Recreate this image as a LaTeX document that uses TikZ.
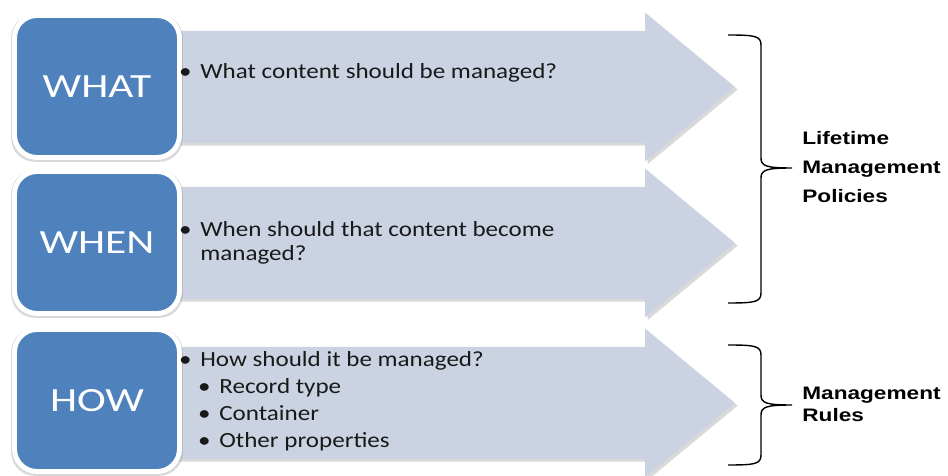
\documentclass[tikz,border=0pt]{standalone}
\usepackage{fontspec}
\setmainfont{Carlito}[FakeStretch=1.16]
\newfontfamily\boxfont{Carlito}[FakeStretch=1.28]
\newfontfamily\lblfont{Liberation Sans}[FakeStretch=1.25]
\usetikzlibrary{positioning,shadows}
\definecolor{boxblue}{HTML}{4F81BD}
\definecolor{arrowgray}{HTML}{CBD3E2}
\newcommand{\qbul}{\llap{\textbullet\hspace{5pt}}}

\begin{document}
\begin{tikzpicture}[x=0.02cm,y=-0.02cm,
  arrowfill/.style={fill=arrowgray,
    drop shadow={shadow xshift=1.5pt,shadow yshift=-1.5pt,opacity=0.3}},
  qbox/.style={draw=white,line width=2.8pt,fill=boxblue,rounded corners=0.45cm,
    minimum width=3.3cm,minimum height=2.84cm,text=white,
    font=\boxfont\fontsize{19.3}{23}\selectfont,
    general shadow={fill=black!50,shadow scale=1.04,shadow yshift=-0.8pt,opacity=0.3}},
  qtext/.style={anchor=base west,inner sep=0pt,text=black!90,
    font=\fontsize{12.3}{14}\selectfont},
  bracepath/.style={line width=0.8pt},
  bracelbl/.style={anchor=west,inner sep=0pt,align=left}]
\useasboundingbox (0,0) rectangle (948,476);

% arrows behind the boxes
\foreach \yc in {87,243,403}
  \fill[arrowfill] (170,\yc-56) -- (645,\yc-56) -- (645,\yc-74.5) -- (735,\yc)
    -- (645,\yc+74.5) -- (645,\yc+56) -- (170,\yc+56) -- cycle;

% question boxes
\node[qbox] (what) at (97,86.5) {WHAT};
\node[qbox] (when) at (97,242.5) {WHEN};
\node[qbox] (how) at (97,400.5) {HOW};

% bullet texts
\node[qtext] (whatq) at (200,79) {\qbul What content should be managed?};
\node[qtext] (whenq) at (200,237) {\qbul When should that content become};
\node[qtext] (whenqb) at (200,261) {managed?};
\node[qtext] (howq) at (200,367) {\qbul How should it be managed?};
\node[qtext] (howqa) at (219,394) {\qbul Record type};
\node[qtext] (howqb) at (219,421) {\qbul Container};
\node[qtext] (howqc) at (219,448) {\qbul Other properties};

% braces
\draw[bracepath] (728,35) .. controls (755,35) and (761,36) .. (761,45) -- (761,158)
  .. controls (761,166) and (766,168) .. (792,168)
  .. controls (766,168) and (761,170) .. (761,178) -- (761,293)
  .. controls (761,302) and (755,303) .. (728,303);
\draw[bracepath] (728,345) .. controls (755,345) and (761,346) .. (761,355) -- (761,395)
  .. controls (761,403) and (766,405) .. (792,405)
  .. controls (766,405) and (761,407) .. (761,415) -- (761,455)
  .. controls (761,464) and (755,465) .. (728,465);
\node[bracelbl,font=\lblfont\bfseries\fontsize{10.3}{16.6}\selectfont] (lmp) at (802,167) {Lifetime\\Management\\Policies};
\node[bracelbl,font=\lblfont\bfseries\fontsize{10.3}{12.5}\selectfont] (mrules) at (802,404) {Management\\Rules};
\end{tikzpicture}
\end{document}
